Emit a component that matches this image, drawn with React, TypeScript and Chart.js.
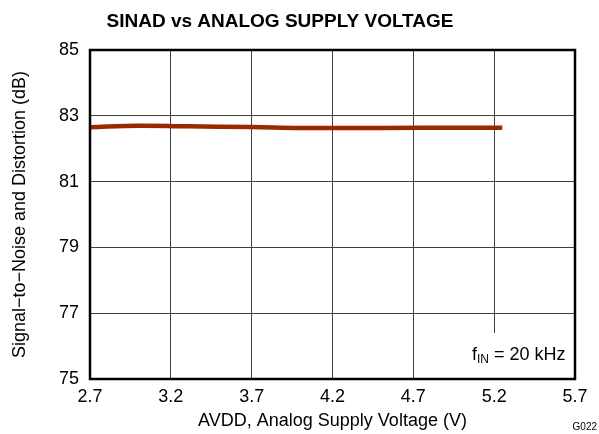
import React, { useEffect, useRef } from "react";
import { Chart, registerables } from "chart.js";

Chart.register(...registerables);

const voltages = [2.7, 3.0, 3.3, 3.7, 4.0, 4.5, 5.0, 5.25];
const sinad = [82.65, 82.7, 82.68, 82.66, 82.63, 82.63, 82.64, 82.64];
const xTicks = [2.7, 3.2, 3.7, 4.2, 4.7, 5.2, 5.7];
const yTicks = [75, 77, 79, 81, 83, 85];

const FONT = "Arial, 'Liberation Sans', Helvetica, sans-serif";

const framePlugin = {
  id: "frame",
  afterDatasetsDraw(chart: any) {
    const { ctx, chartArea } = chart;
    const { left, right, top, bottom } = chartArea;
    ctx.save();
    // annotation box
    const bx = 440;
    const by = 333;
    ctx.fillStyle = "#ffffff";
    ctx.fillRect(bx, by, right - bx, bottom - by);
    ctx.fillStyle = "#000";
    ctx.textBaseline = "alphabetic";
    ctx.textAlign = "left";
    let x = 472;
    const base = 360;
    ctx.font = `18px ${FONT}`;
    ctx.fillText("f", x, base);
    x += ctx.measureText("f").width;
    ctx.font = `12px ${FONT}`;
    ctx.fillText("IN", x, base + 3);
    x += ctx.measureText("IN").width;
    ctx.font = `18px ${FONT}`;
    ctx.fillText(" = 20 kHz", x, base);
    // frame
    ctx.strokeStyle = "#000";
    ctx.lineWidth = 2.5;
    ctx.strokeRect(left, top, right - left, bottom - top);
    // title
    ctx.font = `bold 19px ${FONT}`;
    ctx.textAlign = "center";
    ctx.fillText("SINAD vs ANALOG SUPPLY VOLTAGE", 280, 27);
    // code
    ctx.font = `10px ${FONT}`;
    ctx.textAlign = "right";
    ctx.fillText("G022", 597, 430);
    ctx.restore();
  },
};

export default function App() {
  const ref = useRef<HTMLCanvasElement>(null);
  useEffect(() => {
    document.body.style.margin = "0";
    const chart = new Chart(ref.current as HTMLCanvasElement, {
      type: "line",
      data: {
        datasets: [
          {
            data: voltages.map((v, i) => ({ x: v, y: sinad[i] })),
            borderColor: "#992a00",
            borderWidth: 4.5,
            pointRadius: 0,
            tension: 0.4,
            fill: false,
          },
        ],
      },
      options: {
        responsive: false,
        animation: false,
        layout: { padding: { left: 0, right: 24, top: 50, bottom: 0 } },
        plugins: { legend: { display: false }, tooltip: { enabled: false }, title: { display: false } },
        scales: {
          x: {
            type: "linear",
            min: 2.7,
            max: 5.7,
            afterBuildTicks(scale: any) {
              scale.ticks = xTicks.map((v) => ({ value: v }));
            },
            afterFit(scale: any) {
              scale.height = 55;
            },
            ticks: {
              color: "#000",
              font: { family: FONT, size: 18 },
              padding: 7,
              maxRotation: 0,
              callback: (v: any) => Number(v).toFixed(1),
            },
            grid: { color: "#404040", lineWidth: 1, drawTicks: false },
            border: { display: false },
            title: {
              display: true,
              text: "AVDD, Analog Supply Voltage (V)",
              color: "#000",
              font: { family: FONT, size: 18 },
              padding: { top: 2, bottom: 2 },
            },
          },
          y: {
            min: 75,
            max: 85,
            afterBuildTicks(scale: any) {
              scale.ticks = yTicks.map((v) => ({ value: v }));
            },
            afterFit(scale: any) {
              scale.width = 90;
            },
            ticks: {
              color: "#000",
              font: { family: FONT, size: 18 },
              padding: 11,
            },
            grid: { color: "#404040", lineWidth: 1, drawTicks: false },
            border: { display: false },
            title: {
              display: true,
              text: "Signal\u2212to\u2212Noise and Distortion (dB)",
              color: "#000",
              font: { family: FONT, size: 18 },
              padding: { top: 9, bottom: 0 },
            },
          },
        },
      },
      plugins: [framePlugin],
    } as any);
    return () => chart.destroy();
  }, []);
  return (
    <div style={{ position: "absolute", left: 0, top: 0, width: 599, height: 434 }}>
      <canvas ref={ref} width={599} height={434} />
    </div>
  );
}
